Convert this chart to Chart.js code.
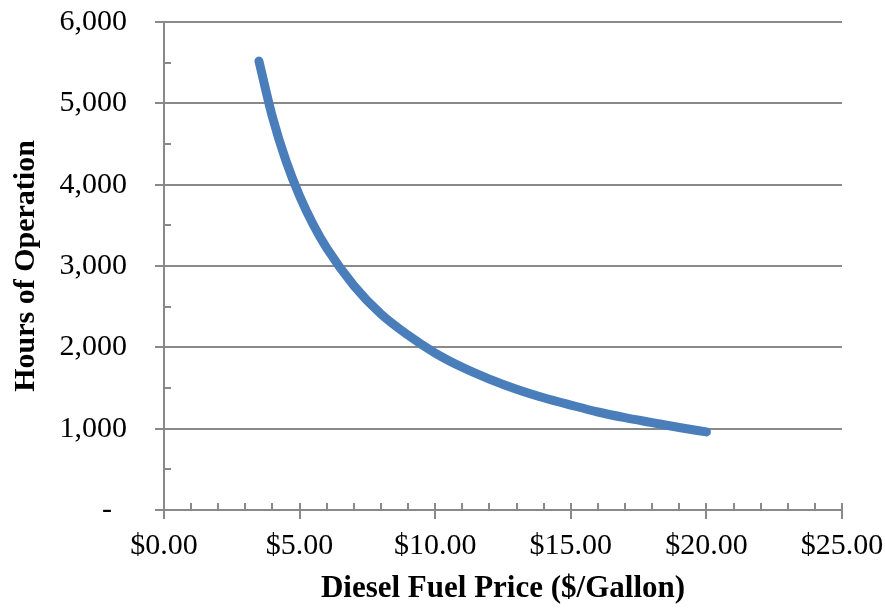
<!DOCTYPE html>
<html>
<head>
<meta charset="utf-8">
<script src="https://cdn.jsdelivr.net/npm/chart.js@4"></script>
<style>
  html, body { margin: 0; padding: 0; background: #fff; }
  #wrap { width: 885px; height: 612px; }
</style>
</head>
<body>
<div id="wrap"><canvas id="myChart" width="885" height="612"></canvas></div>
<script>
// values
const fuelPrice = [3.5, 4, 4.5, 5, 5.5, 6, 7, 8, 9, 10, 11, 12, 13, 14, 15, 16, 17, 18, 19, 20];
const hoursOfOperation = [5520, 4830, 4290, 3860, 3510, 3220, 2760, 2410, 2150, 1930, 1755, 1610, 1485, 1380, 1290, 1205, 1135, 1075, 1015, 960];
const xTicks = [0, 5, 10, 15, 20, 25];
const yTicks = [0, 1000, 2000, 3000, 4000, 5000, 6000];

const axisGray = '#898989';
const serif = "'Liberation Serif', 'Times New Roman', serif";

// minor tick marks drawn inside the plot, like the Excel original
const minorTicks = {
  id: 'minorTicks',
  afterDatasetsDraw(chart) {
    const ctx = chart.ctx;
    const x = chart.scales.x, y = chart.scales.y;
    ctx.save();
    ctx.strokeStyle = axisGray;
    ctx.lineWidth = 2;
    ctx.beginPath();
    // x: minor every 1, majors also cross up into the plot
    for (let v = 0; v <= 25; v++) {
      const px = Math.round(x.getPixelForValue(v));
      ctx.moveTo(px, y.bottom);
      ctx.lineTo(px, y.bottom - 7);
    }
    // y: minor every 500
    for (let v = 500; v < 6000; v += 1000) {
      const py = Math.round(y.getPixelForValue(v));
      ctx.moveTo(x.left, py);
      ctx.lineTo(x.left + 7, py);
    }
    ctx.stroke();
    ctx.restore();
  }
};

const ctx = document.getElementById('myChart').getContext('2d');
new Chart(ctx, {
  type: 'scatter',
  data: {
    datasets: [{
      label: 'Hours of Operation',
      data: fuelPrice.map((p, i) => ({ x: p, y: hoursOfOperation[i] })),
      showLine: true,
      borderColor: '#4a7ebb',
      borderWidth: 9,
      borderCapStyle: 'round',
      borderJoinStyle: 'round',
      cubicInterpolationMode: 'monotone',
      pointRadius: 0,
      pointHoverRadius: 0,
      fill: false
    }]
  },
  options: {
    responsive: false,
    animation: false,
    layout: { padding: { top: 22, right: 43, left: 0, bottom: 0 } },
    plugins: {
      legend: { display: false },
      tooltip: { enabled: false }
    },
    scales: {
      x: {
        type: 'linear',
        min: 0,
        max: 25,
        afterBuildTicks: s => { s.ticks = xTicks.map(v => ({ value: v })); },
        afterFit: s => { s.height = 612 - 510; s.paddingLeft = 0; s.paddingRight = 0; },
        border: { color: axisGray, width: 2 },
        grid: { drawOnChartArea: false, color: axisGray, lineWidth: 2, tickLength: 9 },
        ticks: {
          padding: 9,
          color: '#000',
          maxRotation: 0,
          font: { family: serif, size: 30 },
          callback: v => '$' + Number(v).toFixed(2)
        },
        title: {
          display: true,
          text: 'Diesel Fuel Price ($/Gallon)',
          color: '#000',
          font: { family: serif, size: 31, weight: 'bold' },
          padding: { top: 0, bottom: 4 }
        }
      },
      y: {
        min: 0,
        max: 6000,
        afterBuildTicks: s => { s.ticks = yTicks.map(v => ({ value: v })); },
        afterFit: s => { s.width = 164; s.paddingTop = 0; s.paddingBottom = 0; },
        border: { color: axisGray, width: 2 },
        grid: { color: axisGray, lineWidth: 2, tickLength: 9 },
        ticks: {
          padding: 28,
          color: '#000',
          font: { family: serif, size: 30 },
          callback: v => v === 0 ? '-  ' : Number(v).toLocaleString('en-US')
        },
        title: {
          display: true,
          text: 'Hours of Operation',
          color: '#000',
          font: { family: serif, size: 30, weight: 'bold' },
          padding: { top: 8, bottom: 0 }
        }
      }
    }
  },
  plugins: [minorTicks]
});
</script>
</body>
</html>
